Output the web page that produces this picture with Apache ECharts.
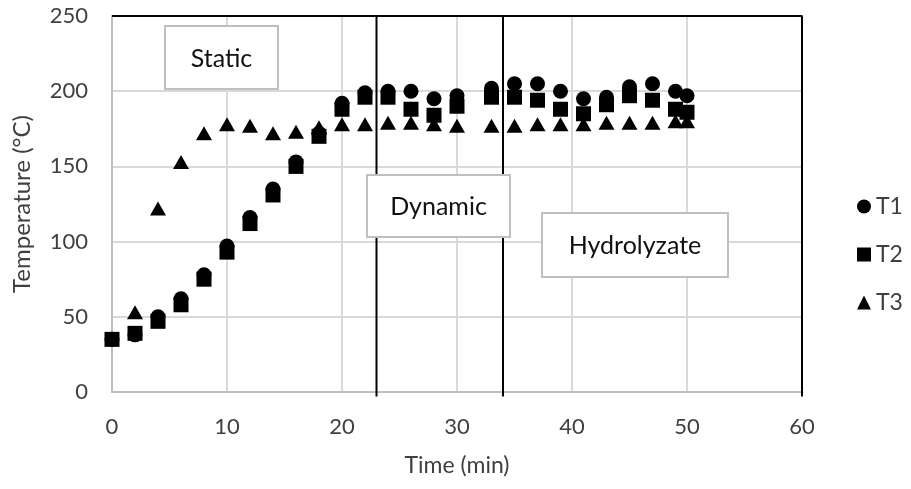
<!DOCTYPE html>
<html>
<head>
<meta charset="utf-8">
<script src="https://cdn.jsdelivr.net/npm/echarts@6/dist/echarts.min.js"></script>
<style>
  html, body { margin: 0; padding: 0; background: #fff; }
  #chart { width: 911px; height: 489px; }
</style>
</head>
<body>
<div id="chart"></div>
<script>
// Sampling times (min) for the three thermocouples
var timeT12 = [0, 2, 4, 6, 8, 10, 12, 14, 16, 18, 20, 22, 24, 26, 28, 30, 33, 35, 37, 39, 41, 43, 45, 47, 49, 50];
var tempT1 = [35, 38, 50, 62, 78, 97, 116, 135, 153, 172, 192, 199, 200, 200, 195, 197, 202, 205, 205, 200, 195, 196, 203, 205, 200, 197];
var tempT2 = [35, 39, 47, 58, 75, 93, 112, 131, 150, 170, 188, 196, 196, 188, 184, 190, 196, 196, 194, 188, 185, 191, 197, 194, 188, 186];
var timeT3 = [2, 4, 6, 8, 10, 12, 14, 16, 18, 20, 22, 24, 26, 28, 30, 33, 35, 37, 39, 41, 43, 45, 47, 49, 50];
var tempT3 = [53, 122, 153, 172, 178, 177, 172, 173, 176, 178, 178, 179, 179, 178, 177, 177, 177, 178, 178, 178, 179, 179, 179, 180, 180];

// Phase boundaries (min) and axis ticks
var phaseBoundaries = [23, 34];
var xTicks = [0, 10, 20, 30, 40, 50, 60];
var yTicks = [0, 50, 100, 150, 200, 250];
var phaseNames = ['Static', 'Dynamic', 'Hydrolyzate'];

var FONT = 'Lato, "Liberation Sans", sans-serif';
var TEXT_GREY = '#404040';

function pairs(xs, ys) {
  return xs.map(function (x, i) { return [x, ys[i]]; });
}

var xMin = xTicks[0], xMax = xTicks[xTicks.length - 1];
var yMin = yTicks[0], yMax = yTicks[yTicks.length - 1];

var series = [
  { name: 'T1', type: 'scatter', symbol: 'circle', symbolSize: 15, data: pairs(timeT12, tempT1), z: 3 },
  { name: 'T2', type: 'scatter', symbol: 'rect', symbolSize: 15, data: pairs(timeT12, tempT2), z: 4 },
  { name: 'T3', type: 'scatter', symbol: 'triangle', symbolSize: [16, 14], data: pairs(timeT3, tempT3), z: 5 }
];
series.forEach(function (s) { s.itemStyle = { color: '#000', opacity: 1 }; });

// Frame along the top and right edges
series.push({
  type: 'line', silent: true, symbol: 'none', clip: false, z: 2,
  lineStyle: { color: '#000', width: 2 },
  data: [[xMin, yMax], [xMax, yMax], [xMax, yMin - 3]]
});
// Vertical phase separators
phaseBoundaries.forEach(function (b) {
  series.push({
    type: 'line', silent: true, symbol: 'none', clip: false, z: 2,
    lineStyle: { color: '#000', width: 2 },
    data: [[b, yMin - 3], [b, yMax]]
  });
});

// Labelled phase boxes: a white rectangle plus a centred caption on top
function phaseBox(label, x, y, w, h) {
  return [
    {
      type: 'rect', x: x, y: y, z: 100,
      shape: { x: 0, y: 0, width: w, height: h },
      style: { fill: '#fff', stroke: '#bfbfbf', lineWidth: 2 }
    },
    {
      type: 'text', x: x + w / 2, y: y + h / 2 + 1, z: 101,
      style: {
        text: label, fill: '#111', fontSize: 25, fontFamily: FONT,
        textAlign: 'center', textVerticalAlign: 'middle'
      }
    }
  ];
}

var chart = echarts.init(document.getElementById('chart'));
chart.setOption({
  animation: false,
  backgroundColor: '#fff',
  grid: { left: 112, right: 109, top: 16, bottom: 97 },
  legend: {
    data: ['T1', 'T2', 'T3'],
    orient: 'vertical', left: 852, top: 190,
    itemWidth: 14, itemHeight: 14, itemGap: 25,
    textStyle: { fontSize: 23, color: TEXT_GREY, fontFamily: FONT }
  },
  xAxis: {
    type: 'value', min: xMin, max: xMax, interval: 10,
    name: 'Time (min)', nameLocation: 'middle', nameGap: 62,
    nameTextStyle: { fontSize: 23, color: TEXT_GREY, fontFamily: FONT },
    axisLine: { lineStyle: { color: '#bfbfbf', width: 2 } },
    axisTick: { show: false },
    axisLabel: { fontSize: 22, color: TEXT_GREY, fontFamily: FONT, margin: 24 },
    splitLine: { lineStyle: { color: '#d9d9d9', width: 2 } }
  },
  yAxis: {
    type: 'value', min: yMin, max: yMax, interval: 50,
    name: 'Temperature (°C)', nameLocation: 'middle', nameGap: 78,
    nameTextStyle: { fontSize: 24, color: TEXT_GREY, fontFamily: FONT },
    axisLine: { show: true, lineStyle: { color: '#bfbfbf', width: 2 } },
    axisTick: { show: false },
    axisLabel: { fontSize: 22, color: TEXT_GREY, fontFamily: FONT, margin: 24 },
    splitLine: { lineStyle: { color: '#d9d9d9', width: 2 } }
  },
  graphic: [].concat(
    phaseBox(phaseNames[0], 165, 26, 113, 63),
    phaseBox(phaseNames[1], 367, 175, 143, 62),
    phaseBox(phaseNames[2], 542, 213, 186, 64)
  ),
  series: series
});
</script>
</body>
</html>
